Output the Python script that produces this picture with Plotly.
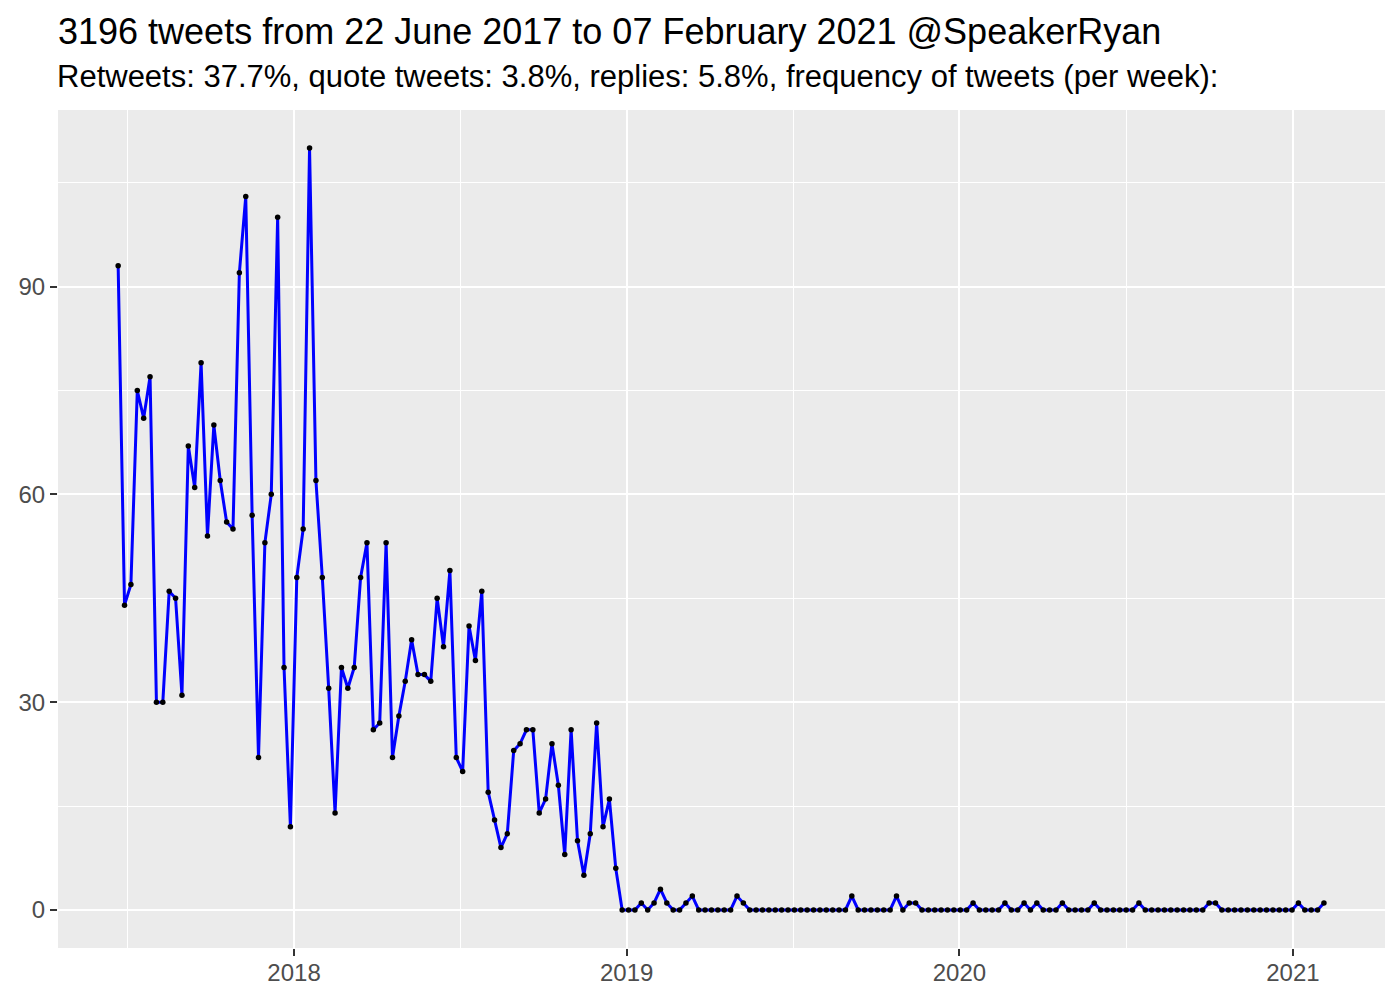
import pandas as pd
import plotly.graph_objects as go

# Weekly tweet counts (weeks starting 22 June 2017)
start_date = "2017-06-22"
tweets_per_week = [
    93, 44, 47, 75, 71, 77, 30, 30, 46, 45, 31, 67, 61, 79, 54, 70, 62, 56, 55, 92,
    103, 57, 22, 53, 60, 100, 35, 12, 48, 55, 110, 62, 48, 32, 14, 35, 32, 35, 48, 53,
    26, 27, 53, 22, 28, 33, 39, 34, 34, 33, 45, 38, 49, 22, 20, 41, 36, 46, 17, 13,
    9, 11, 23, 24, 26, 26, 14, 16, 24, 18, 8, 26, 10, 5, 11, 27, 12, 16, 6, 0,
    0, 0, 1, 0, 1, 3, 1, 0, 0, 1, 2, 0, 0, 0, 0, 0, 0, 2, 1, 0,
    0, 0, 0, 0, 0, 0, 0, 0, 0, 0, 0, 0, 0, 0, 0, 2, 0, 0, 0, 0,
    0, 0, 2, 0, 1, 1, 0, 0, 0, 0, 0, 0, 0, 0, 1, 0, 0, 0, 0, 1,
    0, 0, 1, 0, 1, 0, 0, 0, 1, 0, 0, 0, 0, 1, 0, 0, 0, 0, 0, 0,
    1, 0, 0, 0, 0, 0, 0, 0, 0, 0, 0, 1, 1, 0, 0, 0, 0, 0, 0, 0,
    0, 0, 0, 0, 0, 1, 0, 0, 0, 1,
]
week_dates = pd.date_range(start=start_date, periods=len(tweets_per_week), freq="7D")

x_tick_vals = ["2018-01-01", "2019-01-01", "2020-01-01", "2021-01-01"]
x_tick_text = ["2018", "2019", "2020", "2021"]
y_tick_vals = [0, 30, 60, 90]

title_text = "3196 tweets from 22 June 2017 to 07 February 2021 @SpeakerRyan"
subtitle_text = "Retweets: 37.7%, quote tweets: 3.8%, replies: 5.8%, frequency of tweets (per week):"

FONT = "Liberation Sans, Arial, sans-serif"

# page body has an 8px margin, so the figure is sized to fit the window
W, H = 1392, 992
L, R, T, B = 50, 15, 102, 52
panel_w = W - L - R

fig = go.Figure()
fig.add_trace(go.Scatter(
    x=week_dates, y=tweets_per_week, mode="lines",
    line=dict(color="#0000FF", width=3), hoverinfo="skip", showlegend=False,
))
fig.add_trace(go.Scatter(
    x=week_dates, y=tweets_per_week, mode="markers",
    marker=dict(color="black", size=5.5), showlegend=False,
))

fig.update_layout(
    width=W, height=H,
    paper_bgcolor="white", plot_bgcolor="#EBEBEB",
    margin=dict(l=L, r=R, t=T, b=B),
    font=dict(family=FONT, color="#4D4D4D"),
    title=dict(
        text=title_text, x=50 / W, xanchor="left", xref="container",
        y=1 - 23 / H, yanchor="middle", yref="container",
        font=dict(size=36, color="black", family=FONT),
    ),
    annotations=[dict(
        text=subtitle_text, xref="paper", yref="paper", x=-3 / panel_w, y=(940 - 69) / 838,
        xanchor="left", yanchor="middle", showarrow=False,
        font=dict(size=31, color="black", family=FONT),
    )],
)

fig.update_xaxes(
    type="date", range=["2017-04-17", "2021-04-12"], automargin=False,
    tickmode="array", tickvals=x_tick_vals, ticktext=x_tick_text,
    ticks="outside", ticklen=7, tickwidth=2, tickcolor="#333333",
    tickfont=dict(size=24, color="#4D4D4D", family=FONT),
    ticklabelstandoff=-4,
    showgrid=True, gridcolor="white", gridwidth=2, zeroline=False, showline=False,
    minor=dict(showgrid=True, gridcolor="white", gridwidth=1,
               tick0="2017-07-02 12:00", dtick="M12"),
)
fig.update_yaxes(
    range=[-5.5, 115.5], tickmode="array", tickvals=y_tick_vals, automargin=False,
    ticks="outside", ticklen=7, tickwidth=2, tickcolor="#333333",
    tickfont=dict(size=24, color="#4D4D4D", family=FONT),
    showgrid=True, gridcolor="white", gridwidth=2, zeroline=False, showline=False,
    minor=dict(showgrid=True, gridcolor="white", gridwidth=1, tick0=15, dtick=30),
)

fig.write_html("out.html")
